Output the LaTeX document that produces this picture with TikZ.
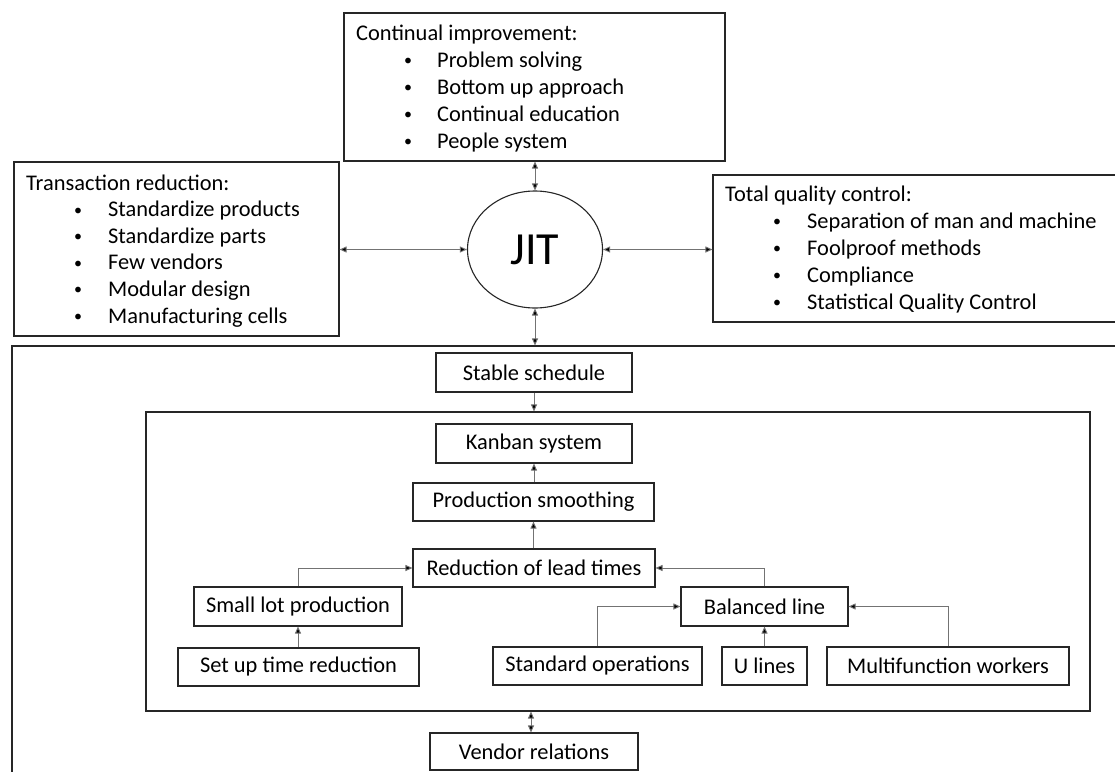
\documentclass[tikz,border=0pt]{standalone}
\usepackage{fontspec}
\setmainfont{Carlito}
\usetikzlibrary{arrows.meta,shapes.geometric}

% A box given by its left, top, right and bottom edges
\newcommand{\panelbox}[6]{%
  \node[box, minimum width={(#4-#2)*1pt}, minimum height={(#5-#3)*1pt}]
    (#1) at ({(#2+#4)/2},{(#3+#5)/2}) {#6};}

\begin{document}
\begin{tikzpicture}[x=1pt,y=-1pt,
  box/.style={draw=black!85, line width=1.1pt, inner sep=0pt,
    font=\fontsize{22.4}{26}\selectfont},
  txt/.style={anchor=base west, inner sep=0pt, font=\fontsize{22.4}{26}\selectfont},
  dot/.style={anchor=base, inner sep=0pt, font=\fontsize{16}{18}\selectfont, yshift=1.5pt},
  tip/.tip={Triangle[length=7pt,width=6pt,fill=black]},
  conn/.style={draw=black!55, line width=0.9pt, -tip},
  both/.style={draw=black!55, line width=0.9pt, tip-tip}]

\clip (0,0) rectangle (1115,771);
\fill[white] (0,0) rectangle (1115,771);

% ---- top level: JIT and its three pillars ----
\panelbox{cont}{344}{13}{725}{161}{}
\node[txt] (c0) at (356,40) {Continual improvement:};
\foreach \t [count=\i] in {Problem solving,Bottom up approach,Continual education,People system}{
  \node[dot] (cb\i) at (408,{40+27*\i}) {•};
  \node[txt] (c\i) at (437,{40+27*\i}) {\t};
}

\panelbox{trans}{14}{162}{339}{336}{}
\node[txt] (t0) at (26,190) {Transaction reduction:};
\foreach \t [count=\i] in {Standardize products,Standardize parts,Few vendors,Modular design,Manufacturing cells}{
  \node[dot] (tb\i) at (78,{190+26.6*\i}) {•};
  \node[txt] (t\i) at (108,{190+26.6*\i}) {\t};
}

\panelbox{tqc}{713}{175}{1125}{322}{}
\node[txt] (q0) at (725,201) {Total quality control:};
\foreach \t [count=\i] in {Separation of man and machine,Foolproof methods,Compliance,Statistical Quality Control}{
  \node[dot] (qb\i) at (777,{201+27*\i}) {•};
  \node[txt] (q\i) at (807,{201+27*\i}) {\t};
}

\node[draw=black!85, line width=1.1pt, ellipse, minimum width=135pt, minimum height=117pt,
  inner sep=0pt, font=\fontsize{46}{50}\selectfont] (jit) at (535,249.5) {JIT};

% ---- lower level: the production system ----
\panelbox{outer}{12}{346}{1125}{800}{}
\panelbox{inner}{146}{412}{1090}{711}{}

\panelbox{stable}{436}{353}{632}{392}{Stable schedule}
\panelbox{kanban}{436}{424}{632}{463}{Kanban system}
\panelbox{smooth}{413}{483}{654}{521}{Production smoothing}
\panelbox{lead}{413}{549}{655}{587}{Reduction of lead times}
\panelbox{lot}{194}{587}{402}{626}{Small lot production}
\panelbox{balanced}{681}{587}{848}{626}{Balanced line}
\panelbox{setup}{178}{648}{419}{686}{Set up time reduction}
\panelbox{stdops}{493}{647}{702}{685}{Standard operations}
\panelbox{ulines}{722}{647}{807}{685}{U lines}
\panelbox{multi}{827}{647}{1069}{685}{Multifunction workers}
\panelbox{vendor}{430}{733}{638}{770}{Vendor relations}

% ---- connectors ----
\draw[both] (cont.south -| jit.north) -- (jit.north);
\draw[both] (trans.east |- jit.west) -- (jit.west);
\draw[both] (jit.east) -- (tqc.west |- jit.east);
\draw[both] (jit.south) -- (jit.south |- outer.north);

\draw[conn] (stable.south) -- (stable.south |- inner.north);
\draw[conn] (smooth.north -| kanban.south) -- (kanban.south);
\draw[conn] (lead.north -| smooth.south) -- (smooth.south);
\draw[conn] (lot.north) |- (lead.west);
\draw[conn] (balanced.north) |- (lead.east);
\draw[conn] (setup.north -| lot.south) -- (lot.south);
\draw[conn] (stdops.north) |- (balanced.west);
\draw[conn] (ulines.north) -- (balanced.south);
\draw[conn] (multi.north) |- (balanced.east);
\draw[both] (inner.south -| 531,0) -- (vendor.north -| 531,0);
\end{tikzpicture}
\end{document}
